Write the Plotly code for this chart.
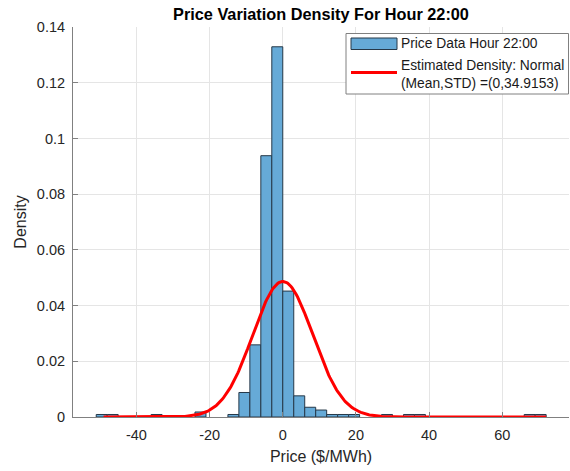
import numpy as np
import plotly.graph_objects as go

# Histogram bins (left edges, $/MWh) and densities
bin_left = [-51, -48, -36, -24, -15, -12, -9, -6, -3, 0, 3, 6, 9, 12, 15, 18, 27, 33, 36, 66, 69]
density = [0.0009, 0.0009, 0.0009, 0.0018, 0.0009, 0.0088, 0.0259, 0.0938, 0.1329, 0.0452,
           0.0076, 0.0035, 0.0025, 0.0009, 0.0009, 0.0009, 0.0009, 0.0009, 0.0009, 0.0009, 0.0009]
bin_width = 3

# Fitted normal density (as drawn)
fit_mean = 0.0
fit_sigma = 8.2
fit_range = [-49, 72]

x_ticks = [-40, -20, 0, 20, 40, 60]
x_tick_text = ["-40", "-20", "0", "20", "40", "60"]
y_ticks = [0, 0.02, 0.04, 0.06, 0.08, 0.1, 0.12, 0.14]
y_tick_text = ["0", "0.02", "0.04", "0.06", "0.08", "0.1", "0.12", "0.14"]

bar_name = "Price Data Hour 22:00"
fit_name_lines = ["Estimated Density: Normal", "(Mean,STD) =(0,34.9153)"]

centers = [b + bin_width / 2 for b in bin_left]
xs = np.linspace(fit_range[0], fit_range[1], 400)
ys = np.exp(-0.5 * ((xs - fit_mean) / fit_sigma) ** 2) / (fit_sigma * np.sqrt(2 * np.pi))

BAR_FILL = "#66AAD7"
BAR_EDGE = "#263848"
RED = "#FF0000"

fig = go.Figure()
fig.add_trace(go.Bar(
    x=centers, y=density, width=[bin_width] * len(centers),
    marker=dict(color=BAR_FILL, line=dict(color=BAR_EDGE, width=1)),
    name=bar_name, showlegend=False,
))
fig.add_trace(go.Scatter(
    x=xs, y=ys, mode="lines", line=dict(color=RED, width=3),
    name=" ".join(fit_name_lines), showlegend=False,
))

# plot area in pixels
W, H = 570, 471
L, R, T, B = 73, 1, 27, 54
pw, ph = W - L - R, H - T - B


def px(x):
    return (x - L) / pw


def py(y):
    return (H - B - y) / ph


font = "Liberation Sans, Arial, sans-serif"
shapes = [
    dict(type="rect", xref="paper", yref="paper", x0=px(346), x1=px(568.5), y0=py(94), y1=py(33.5),
         line=dict(color="#808080", width=1), fillcolor="white", layer="above"),
    dict(type="rect", xref="paper", yref="paper", x0=px(351), x1=px(397), y0=py(49.5), y1=py(38),
         line=dict(color=BAR_EDGE, width=1), fillcolor=BAR_FILL, layer="above"),
    dict(type="line", xref="paper", yref="paper", x0=px(351), x1=px(397), y0=py(72.5), y1=py(72.5),
         line=dict(color=RED, width=3), layer="above"),
]
leg_font = dict(family=font, size=13.8, color="#1a1a1a")
annotations = [
    dict(text=bar_name, xref="paper", yref="paper", x=px(399), y=py(44), xanchor="left",
         yanchor="middle", showarrow=False, font=leg_font),
    dict(text=fit_name_lines[0], xref="paper", yref="paper", x=px(399), y=py(65.5), xanchor="left",
         yanchor="middle", showarrow=False, font=leg_font),
    dict(text=fit_name_lines[1], xref="paper", yref="paper", x=px(399), y=py(83), xanchor="left",
         yanchor="middle", showarrow=False, font=leg_font),
]

fig.update_layout(
    width=W, height=H,
    margin=dict(l=L, r=R, t=T, b=B),
    paper_bgcolor="white", plot_bgcolor="white",
    font=dict(family=font, size=14, color="#262626"),
    title=dict(text="<b>Price Variation Density For Hour 22:00</b>", x=0.5,
               xanchor="center", xref="paper", y=1 - 14 / H, yanchor="middle",
               font=dict(size=16.3, color="#000000")),
    shapes=shapes, annotations=annotations,
    xaxis=dict(range=[-57.35, 78.25], tickvals=x_ticks, ticktext=x_tick_text, showgrid=True,
               gridcolor="#E5E5E5", zeroline=False, showline=True, linecolor="#808080",
               linewidth=1, ticks="inside", ticklen=5, tickcolor="#808080",
               ticklabelstandoff=5,
               title=dict(text="Price ($/MWh)", font=dict(size=16), standoff=8),
               tickfont=dict(size=14.5)),
    yaxis=dict(range=[0, 0.14], tickvals=y_ticks, ticktext=y_tick_text, showgrid=True,
               gridcolor="#E5E5E5", zeroline=False, showline=True, linecolor="#808080",
               linewidth=1, ticks="inside", ticklen=5, tickcolor="#808080",
               ticklabelstandoff=4,
               title=dict(text="Density", font=dict(size=16), standoff=6),
               tickfont=dict(size=14.5)),
)

fig.write_html("out.html")
